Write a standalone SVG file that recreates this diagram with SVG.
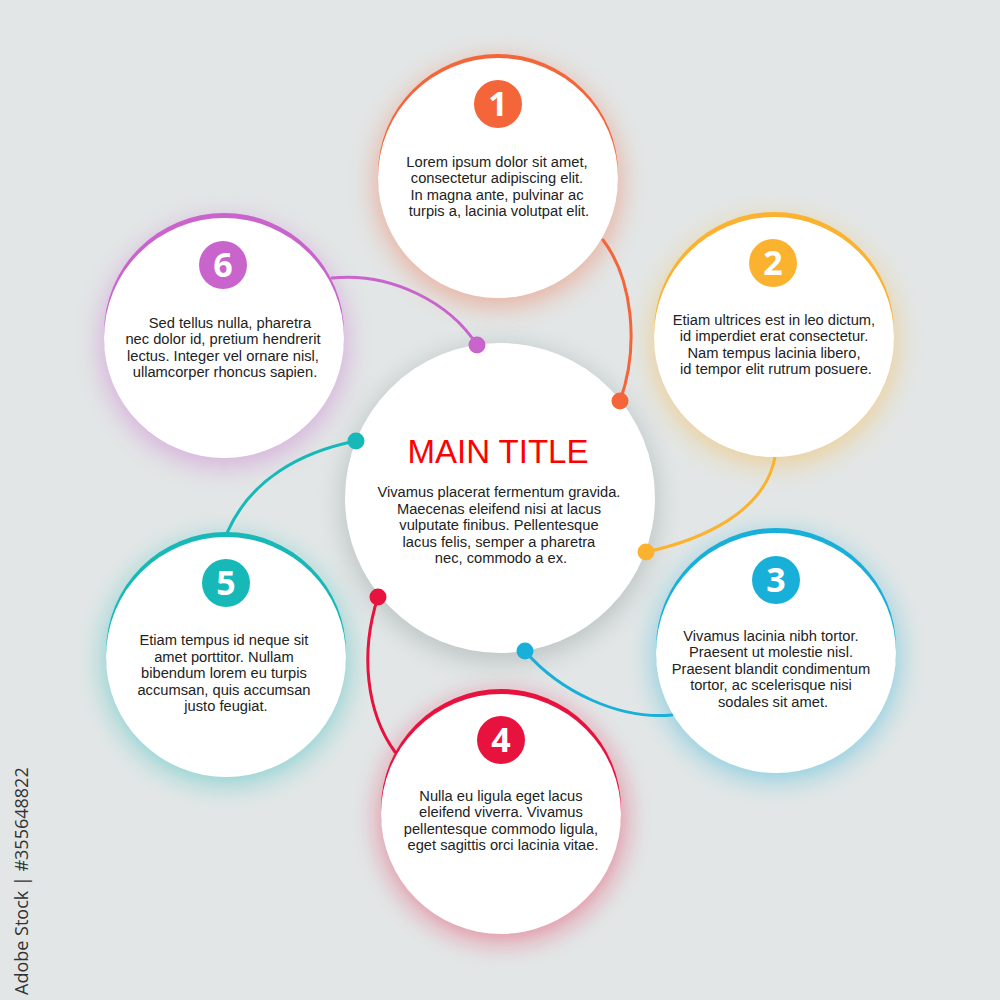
<svg xmlns="http://www.w3.org/2000/svg" width="1000" height="1000" viewBox="0 0 1000 1000">
<style>
  .body { font-family: "Liberation Sans", Arial, sans-serif; font-size: 14.7px; fill: #222; text-anchor: middle; }
  .num { font-family: "Open Sans", "Liberation Sans", sans-serif; font-size: 34px; font-weight: bold; fill: #fff; text-anchor: middle; }
  .title { font-family: "Liberation Sans", Arial, sans-serif; font-size: 33px; fill: #ff0000; text-anchor: middle; }
  .white { fill: #ffffff; }
  .glow { filter: url(#blur); opacity: 0.42; }
  .conn { fill: none; stroke-width: 3; stroke-linecap: round; }
  .c1 { fill: #f5653a; } .s1 { stroke: #f5653a; }
  .c2 { fill: #fbb22f; } .s2 { stroke: #fbb22f; }
  .c3 { fill: #18afd9; } .s3 { stroke: #18afd9; }
  .c4 { fill: #e8123f; } .s4 { stroke: #e8123f; }
  .c5 { fill: #16b8b8; } .s5 { stroke: #16b8b8; }
  .c6 { fill: #c864cc; } .s6 { stroke: #c864cc; }
  .wm { font-family: "Open Sans", "Liberation Sans", sans-serif; font-size: 18px; fill: #333; }
</style>
<defs>
  <filter id="blur" x="-30%" y="-30%" width="160%" height="160%">
    <feGaussianBlur stdDeviation="13"/>
  </filter>
</defs>
<rect width="1000" height="1000" fill="#e2e6e6"/>

<g id="shadows">
  <circle class="glow c1" cx="498" cy="183" r="123"/>
  <circle class="glow c2" cx="774" cy="342" r="123"/>
  <circle class="glow c3" cx="776" cy="657" r="123"/>
  <circle class="glow c4" cx="502" cy="818" r="123"/>
  <circle class="glow c5" cx="226" cy="661" r="123"/>
  <circle class="glow c6" cx="224" cy="343" r="123"/>
  <circle cx="500" cy="504" r="158" fill="#8e9a9a" style="filter:url(#blur);opacity:0.45"/>
</g>

<g id="connectors">
  <path class="conn s1" d="M603,240 C632,278 640,345 620,401"/>
  <path class="conn s2" d="M775,457 C765,512 702,540 646,552"/>
  <path class="conn s3" d="M525,651 C560,692 620,720 672,715"/>
  <path class="conn s4" d="M378,597 C360,652 366,712 395,752"/>
  <path class="conn s5" d="M227,533 C250,480 300,452 356,441"/>
  <path class="conn s6" d="M332,278 C392,272 450,303 477,345"/>
</g>

<g id="center">
  <circle class="white" cx="500" cy="498" r="155"/>
  <text class="title" x="498" y="463">MAIN TITLE</text>
  <text class="body">
    <tspan x="501" y="497">Vivamus placerat fermentum gravida.</tspan>
    <tspan x="501" y="514">Maecenas eleifend nisi at lacus</tspan>
    <tspan x="501" y="530">vulputate finibus. Pellentesque</tspan>
    <tspan x="501" y="547">lacus felis, semper a pharetra</tspan>
    <tspan x="501" y="563">nec, commodo a ex.</tspan>
  </text>
</g>

<g id="node1">
  <circle class="c1" cx="498" cy="174" r="120"/>
  <circle class="white" cx="498" cy="178" r="120"/>
  <circle class="c1" cx="498" cy="104" r="24"/>
  <text class="num" x="498" y="116">1</text>
  <text class="body">
    <tspan x="499" y="167">Lorem ipsum dolor sit amet,</tspan>
    <tspan x="499" y="183">consectetur adipiscing elit.</tspan>
    <tspan x="499" y="200">In magna ante, pulvinar ac</tspan>
    <tspan x="499" y="216">turpis a, lacinia volutpat elit.</tspan>
  </text>
</g>

<g id="node2">
  <circle class="c2" cx="774" cy="332" r="120"/>
  <circle class="white" cx="774" cy="337" r="120"/>
  <circle class="c2" cx="773" cy="263" r="24"/>
  <text class="num" x="773" y="275">2</text>
  <text class="body">
    <tspan x="776" y="325">Etiam ultrices est in leo dictum,</tspan>
    <tspan x="776" y="341">id imperdiet erat consectetur.</tspan>
    <tspan x="776" y="358">Nam tempus lacinia libero,</tspan>
    <tspan x="776" y="374">id tempor elit rutrum posuere.</tspan>
  </text>
</g>

<g id="node3">
  <circle class="c3" cx="776" cy="648" r="120"/>
  <circle class="white" cx="776" cy="653" r="120"/>
  <circle class="c3" cx="776" cy="580" r="24"/>
  <text class="num" x="776" y="592">3</text>
  <text class="body">
    <tspan x="773" y="641">Vivamus lacinia nibh tortor.</tspan>
    <tspan x="773" y="657">Praesent ut molestie nisl.</tspan>
    <tspan x="773" y="674">Praesent blandit condimentum</tspan>
    <tspan x="773" y="690">tortor, ac scelerisque nisi</tspan>
    <tspan x="773" y="707">sodales sit amet.</tspan>
  </text>
</g>

<g id="node4">
  <circle class="c4" cx="501" cy="809" r="120"/>
  <circle class="white" cx="501" cy="814" r="120"/>
  <circle class="c4" cx="501" cy="740" r="24"/>
  <text class="num" x="501" y="752">4</text>
  <text class="body">
    <tspan x="503" y="801">Nulla eu ligula eget lacus</tspan>
    <tspan x="503" y="817">eleifend viverra. Vivamus</tspan>
    <tspan x="503" y="834">pellentesque commodo ligula,</tspan>
    <tspan x="503" y="850">eget sagittis orci lacinia vitae.</tspan>
  </text>
</g>

<g id="node5">
  <circle class="c5" cx="226" cy="652" r="120"/>
  <circle class="white" cx="226" cy="657" r="120"/>
  <circle class="c5" cx="226" cy="583" r="24"/>
  <text class="num" x="226" y="595">5</text>
  <text class="body">
    <tspan x="226" y="645">Etiam tempus id neque sit</tspan>
    <tspan x="226" y="662">amet porttitor. Nullam</tspan>
    <tspan x="226" y="678">bibendum lorem eu turpis</tspan>
    <tspan x="226" y="695">accumsan, quis accumsan</tspan>
    <tspan x="226" y="711">justo feugiat.</tspan>
  </text>
</g>

<g id="node6">
  <circle class="c6" cx="224" cy="333" r="120"/>
  <circle class="white" cx="224" cy="338" r="120"/>
  <circle class="c6" cx="223" cy="265" r="24"/>
  <text class="num" x="223" y="277">6</text>
  <text class="body">
    <tspan x="232" y="328">Sed tellus nulla, pharetra</tspan>
    <tspan x="225" y="344">nec dolor id, pretium hendrerit</tspan>
    <tspan x="225" y="361">lectus. Integer vel ornare nisl,</tspan>
    <tspan x="225" y="377">ullamcorper rhoncus sapien.</tspan>
  </text>
</g>

<g id="connector-dots">
  <circle class="c1" cx="620" cy="401" r="8.5"/>
  <circle class="c2" cx="646" cy="552" r="8.5"/>
  <circle class="c3" cx="525" cy="651" r="8.5"/>
  <circle class="c4" cx="378" cy="597" r="8.5"/>
  <circle class="c5" cx="356" cy="441" r="8.5"/>
  <circle class="c6" cx="477" cy="345" r="8.5"/>
</g>

<text class="wm" transform="translate(28,995) rotate(-90)">Adobe Stock | #355648822</text>
</svg>
